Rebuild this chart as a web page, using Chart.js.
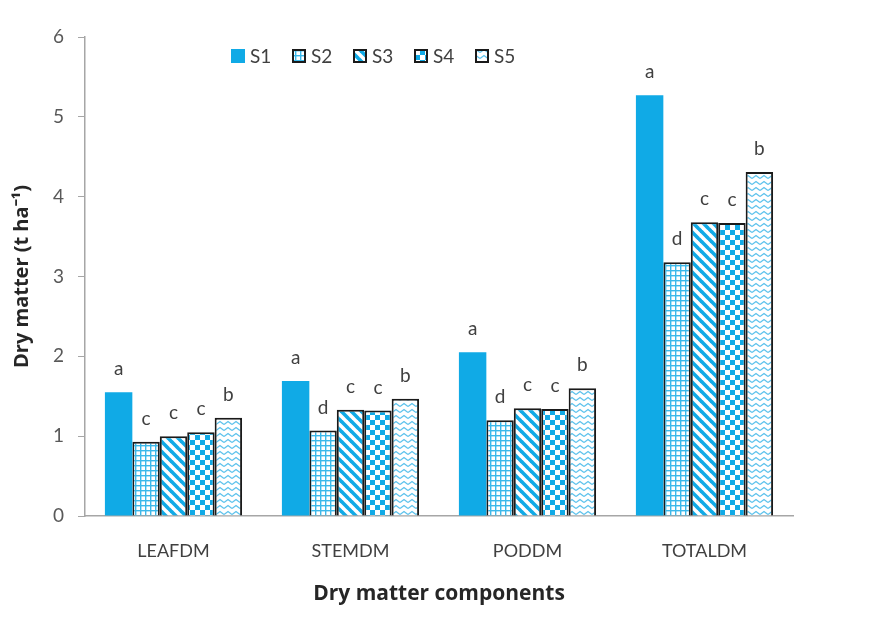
<!DOCTYPE html>
<html>
<head>
<meta charset="utf-8">
<script src="https://cdn.jsdelivr.net/npm/chart.js@4.4.1/dist/chart.umd.min.js"></script>
<style>
  body { margin: 0; background: #fff; }
  #wrap { width: 878px; height: 619px; }
</style>
</head>
<body>
<div id="wrap"><canvas id="chart" width="878" height="619"></canvas></div>
<script>
// data
var categories = ["LEAFDM", "STEMDM", "PODDM", "TOTALDM"];
var s1 = [1.55, 1.69, 2.05, 5.27];
var s2 = [0.93, 1.07, 1.20, 3.18];
var s3 = [1.00, 1.33, 1.35, 3.68];
var s4 = [1.05, 1.32, 1.34, 3.67];
var s5 = [1.23, 1.47, 1.60, 4.31];
var letters1 = ["a", "a", "a", "a"];
var letters2 = ["c", "d", "d", "d"];
var letters3 = ["c", "c", "c", "c"];
var letters4 = ["c", "c", "c", "c"];
var letters5 = ["b", "b", "b", "b"];

var BLUE = "#10aae6";

function tile(w, h, paint) {
  var c = document.createElement("canvas");
  c.width = w; c.height = h;
  var g = c.getContext("2d");
  g.fillStyle = "#ffffff";
  g.fillRect(0, 0, w, h);
  paint(g);
  return document.getElementById("chart").getContext("2d").createPattern(c, "repeat");
}

// small grid
var gridPat = tile(5, 5, function (g) {
  g.fillStyle = "#3bb8ea";
  g.fillRect(0, 0, 5, 1.4);
  g.fillRect(0, 0, 1.4, 5);
});
// wide downward diagonal
var diagPat = tile(10, 10, function (g) {
  g.strokeStyle = BLUE;
  g.lineWidth = 3.6;
  for (var x0 = -10; x0 <= 10; x0 += 10) {
    g.beginPath();
    g.moveTo(x0 - 1, -1);
    g.lineTo(x0 + 11, 11);
    g.stroke();
  }
});
// checkerboard
var checkPat = tile(10, 10, function (g) {
  g.fillStyle = BLUE;
  g.fillRect(0, 0, 5, 5);
  g.fillRect(5, 5, 5, 5);
});
// zigzag
var zigPat = tile(8, 6, function (g) {
  g.strokeStyle = "#5cc2ec";
  g.lineWidth = 1.3;
  g.beginPath();
  g.moveTo(0, 4.5);
  g.lineTo(4, 1.5);
  g.lineTo(8, 4.5);
  g.stroke();
});

var allLetters = [letters1, letters2, letters3, letters4, letters5];

var letterPlugin = {
  id: "letters",
  afterDatasetsDraw: function (chart) {
    var ctx = chart.ctx;
    ctx.save();
    ctx.font = "19px Lato";
    ctx.fillStyle = "#404040";
    ctx.textAlign = "center";
    ctx.textBaseline = "alphabetic";
    chart.data.datasets.forEach(function (ds, i) {
      chart.getDatasetMeta(i).data.forEach(function (bar, j) {
        ctx.fillText(allLetters[i][j], bar.x, bar.y - 17);
      });
    });
    ctx.restore();
  }
};

var legendPlugin = {
  id: "myLegend",
  afterDraw: function (chart) {
    var ctx = chart.ctx;
    ctx.save();
    ctx.font = "19px Lato";
    ctx.textBaseline = "middle";
    var x = 231, y = 56;
    chart.data.datasets.forEach(function (ds) {
      ctx.fillStyle = ds.backgroundColor;
      ctx.fillRect(x, y - 7, 14, 14);
      if (ds.borderWidth) {
        ctx.strokeStyle = "#1a1a1a";
        ctx.lineWidth = 2;
        ctx.strokeRect(x + 1, y - 6, 12, 12);
      }
      ctx.fillStyle = "#404040";
      ctx.fillText(ds.label, x + 19, y + 1);
      x += 61;
    });
    ctx.restore();
  }
};

function draw() {
  Chart.defaults.font.family = "Lato";
  new Chart(document.getElementById("chart"), {
    type: "bar",
    data: {
      labels: categories,
      datasets: [
        { label: "S1", data: s1, backgroundColor: BLUE, borderWidth: 0 },
        { label: "S2", data: s2, backgroundColor: gridPat, borderColor: "#1a1a1a", borderWidth: 2 },
        { label: "S3", data: s3, backgroundColor: diagPat, borderColor: "#1a1a1a", borderWidth: 2 },
        { label: "S4", data: s4, backgroundColor: checkPat, borderColor: "#1a1a1a", borderWidth: 2 },
        { label: "S5", data: s5, backgroundColor: zigPat, borderColor: "#1a1a1a", borderWidth: 2 }
      ]
    },
    options: {
      responsive: false,
      animation: false,
      categoryPercentage: 0.775,
      barPercentage: 1,
      layout: { padding: { left: 0, right: 85, top: 37, bottom: 0 } },
      plugins: {
        legend: { display: false },
        tooltip: { enabled: false }
      },
      scales: {
        x: {
          grid: { display: false, drawTicks: false },
          border: { display: true, color: "#a6a6a6", width: 1.5 },
          ticks: { color: "#404040", font: { size: 18 }, padding: 24 },
          title: {
            display: true,
            text: "Dry matter components",
            color: "#262626",
            font: { family: "Open Sans", size: 21, weight: "bold" },
            padding: { top: 0, bottom: 12 }
          },
          afterFit: function (s) { s.height = 103; }
        },
        y: {
          min: 0,
          max: 6,
          grid: { drawOnChartArea: false, drawTicks: true, tickLength: 7, color: "#a6a6a6" },
          border: { display: true, color: "#a6a6a6", width: 1.5 },
          ticks: { stepSize: 1, color: "#595959", font: { size: 19 }, padding: 14 },
          title: {
            display: true,
            text: "Dry matter (t ha\u207b\u00b9)",
            color: "#262626",
            font: { family: "Open Sans", size: 20, weight: "bold" },
            padding: { top: 10, bottom: 0 }
          },
          afterFit: function (s) { s.width = 85; }
        }
      }
    },
    plugins: [letterPlugin, legendPlugin]
  });
}

if (document.fonts && document.fonts.load) {
  Promise.all([
    document.fonts.load("18px Lato"),
    document.fonts.load("bold 20px 'Open Sans'")
  ]).then(draw, draw);
} else {
  draw();
}
</script>
</body>
</html>
